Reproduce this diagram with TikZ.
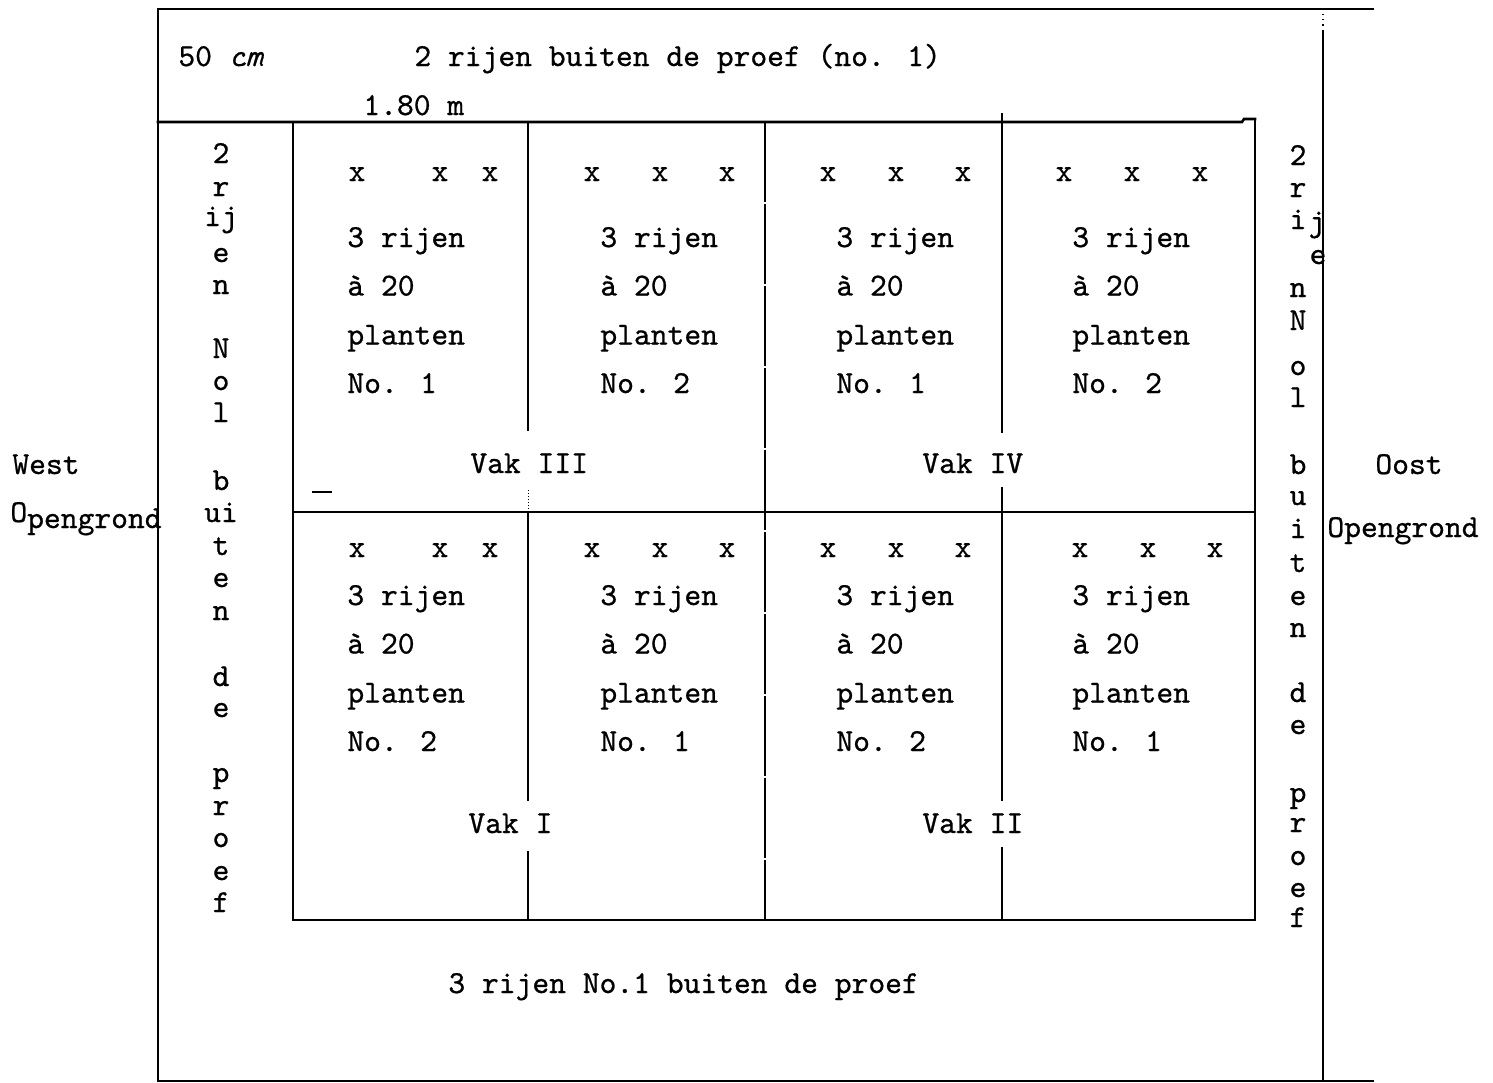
\documentclass[tikz,border=0pt]{standalone}
\usepackage{fontspec}
\newfontfamily\tw{lmmono10-regular.otf}[FakeBold=0.7, ItalicFont=lmmono10-italic.otf, ItalicFeatures={FakeBold=0.7}]
\newcommand\twf{\tw\fontsize{16}{18}\selectfont}
\begin{document}
\begin{tikzpicture}[x=0.5pt,y=-0.5pt,
  lbl/.style={font=\twf, inner sep=0pt, anchor=base west},
  ch/.style={font=\twf, inner sep=0pt, anchor=base},
  heavy/.style={line width=1.3pt, line cap=rect},
  fineline/.style={line width=0.8pt, dash pattern=on 40pt off 1pt}]
\useasboundingbox (0,0) rectangle (1493,1082);
\fill[white] (0,0) rectangle (1493,1082);

% outer frame
\coordinate (otl) at (158,9);
\coordinate (otr) at (1373,9);
\coordinate (obl) at (158,1081);
\coordinate (obr) at (1373,1081);
\coordinate (rt) at (1323,14);
\coordinate (rb) at (1323,1081);
\draw[heavy] (otl) -- (otr);
\draw[heavy] (otl) -- (obl);
\draw[heavy] (obl) -- (obr);
\draw[line width=0.6pt, dotted] (rt) -- (1323,32);
\draw[heavy] (1323,32) -- (rb);

% grid
\coordinate (g1) at (158,122);
\coordinate (g2) at (1255,119);
\draw[heavy] (g1) -- (1242,122) -- (1244,119) -- (g2);
\draw[heavy] (293,122) -- (293,920) -- (1255,920) -- (g2);
\draw[heavy] (293,512) -- (1255,512);
\draw[heavy] (528,122) -- (528,430);
\draw[line width=0.5pt, densely dotted] (528,490) -- (528,512);
\draw[heavy] (528,512) -- (528,800);
\draw[heavy] (528,852) -- (528,920);
\draw[fineline] (765,122) -- (765,920);
\draw[heavy] (1002,114) -- (1002,432);
\draw[heavy] (1002,488) -- (1002,800);
\draw[heavy] (1002,848) -- (1002,920);
\draw[line width=1pt] (312,492) -- (332,492);

% top texts
\node[lbl] (t50) at (178,66) {50 {\itshape cm}};
\node[lbl] (t2r) at (414,66) {2 rijen buiten de proef (no. 1)};
\node[lbl] (t180) at (363,115) {1.80 m};

% bottom text
\node[lbl] (tbot) at (448,993) {3 rijen No.1 buiten de proef};

% west / east
\node[lbl] (west) at (12,474) {West};
\node[lbl] (wopen) at (10,528) {\raisebox{3pt}{O}pengrond};
\node[lbl] (oost) at (1375,474) {Oost};
\node[lbl] (oopen) at (1327,537) {Opengrond};

% left strip
\foreach \t/\y [count=\i] in {2/163, r/196, ij/226, e/262, n/294, N/358, o/390, l/422,
   b/490, ui/522, t/555, e/587, n/620, d/686, e/717, p/782, r/815, o/847, e/880, f/912}
  \node[ch] (ls\i) at (221,\y) {\t};

% right strip
\foreach \t/\y [count=\i] in {2/165, r/197, i/229, n/297, N/330, o/375, l/407,
   b/474, u/505, i/538, t/572, e/605, n/637, d/702, e/734, p/802, r/832, o/865, e/897, f/927}
  \node[ch] (rs\i) at (1298,\y) {\t};
\node[ch] (rsj) at (1317,231) {j};
\node[ch] (rse) at (1318,264) {e};

% x marks
\foreach \x [count=\i] in {357,440,490,592,660,727,828,896,963,1064,1132,1200}
  \node[ch] (xa\i) at (\x,181) {x};
\foreach \x [count=\i] in {357,440,490,592,660,727,828,896,963,1080,1148,1215}
  \node[ch] (xb\i) at (\x,557) {x};

% cell texts
\foreach \cx/\by/\nm [count=\i] in {347/247/1, 600/247/2, 836/247/1, 1072/247/2,
   347/605/2, 600/605/1, 836/605/2, 1072/605/1} {
  \node[lbl] (ca\i) at (\cx,\by) {3 rijen};
  \node[lbl] (cb\i) at (\cx,\by+48.5) {à 20};
  \node[lbl] (cc\i) at (\cx,\by+97.5) {planten};
  \node[lbl] (cd\i) at (\cx,\by+146) {No. \nm};
}

% vak labels
\node[lbl] (v3) at (470,473) {Vak III};
\node[lbl] (v4) at (922,473) {Vak IV};
\node[lbl] (v1) at (468,833) {Vak I};
\node[lbl] (v2) at (922,833) {Vak II};
\end{tikzpicture}
\end{document}
